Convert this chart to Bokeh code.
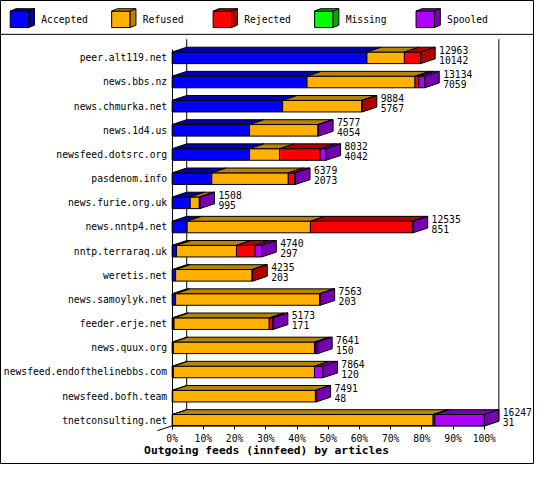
from bokeh.plotting import figure
from bokeh.models import Range1d, LinearAxis, FixedTicker, ColumnDataSource, Label, Span
from bokeh.core.properties import value
from bokeh.embed import file_html
from bokeh.resources import INLINE

# ---------------- data ----------------
hosts = [
    "peer.alt119.net", "news.bbs.nz", "news.chmurka.net", "news.1d4.us",
    "newsfeed.dotsrc.org", "pasdenom.info", "news.furie.org.uk", "news.nntp4.net",
    "nntp.terraraq.uk", "weretis.net", "news.samoylyk.net", "feeder.erje.net",
    "news.quux.org", "newsfeed.endofthelinebbs.com", "newsfeed.bofh.team",
    "tnetconsulting.net",
]
accepted_pct = [62.4, 43.2, 35.4, 24.8, 24.8, 12.7, 5.8, 4.8, 1.4, 1.1, 1.1, 0.6, 0.4, 0.4, 0.2, 0.1]
refused_pct  = [12.0, 34.6, 25.3, 21.9, 9.6, 24.5, 2.9, 39.5, 19.2, 24.5, 46.1, 30.5, 45.2, 45.2, 45.7, 83.5]
rejected_pct = [5.2, 1.2, 0.2, 0.0, 13.0, 2.1, 0.0, 32.7, 6.0, 0.2, 0.0, 1.1, 0.5, 0.0, 0.0, 0.5]
missing_pct  = [0.0] * 16
spooled_pct  = [0.0, 1.9, 0.0, 0.2, 1.9, 0.2, 0.2, 0.2, 2.1, 0.0, 0.2, 0.2, 0.5, 2.7, 0.2, 15.9]
offered_count  = [12963, 13134, 9884, 7577, 8032, 6379, 1508, 12535, 4740, 4235, 7563, 5173, 7641, 7864, 7491, 16247]
accepted_count = [10142, 7059, 5767, 4054, 4042, 2073, 995, 851, 297, 203, 203, 171, 150, 120, 48, 31]

series_names = ["Accepted", "Refused", "Rejected", "Missing", "Spooled"]
front_colors = ["#0000ff", "#ffb000", "#ff0000", "#00ff00", "#b000ff"]
top_colors   = ["#0000a8", "#b88400", "#b00000", "#00a800", "#7600b0"]

pct_ticks = [0, 10, 20, 30, 40, 50, 60, 70, 80, 90, 100]
pct_labels = ["0%", "10%", "20%", "30%", "40%", "50%", "60%", "70%", "80%", "90%", "100%"]
x_title = "Outgoing feeds (innfeed) by articles"

# ---------------- layout ----------------
W, H = 534, 464
REF_W, REF_H = 550, 480
X0PX, XU = 176.8, 3.215      # px of 0 %, px per %
ROW0PX, YU = 59.3, 25.0      # px of first row centre, px per row
n = len(hosts)

def px2x(px):
    return (px - X0PX) / XU

def px2y(py):
    return (n - 1) - (py - ROW0PX) / YU

DX, DY = 15.0 / XU, 5.0 / YU
HALF = 6.0 / YU
GAP = 4.0 / XU
FONT = "DejaVu Sans Mono"
FS = "9.7px"

p = figure(width=W, height=H, title=None, output_backend="svg", toolbar_location=None,
           x_range=Range1d(px2x(0), px2x(REF_W)), y_range=Range1d(px2y(REF_H), px2y(0)),
           x_axis_type=None, y_axis_type=None, min_border=0)
p.outline_line_color = "black"
p.outline_line_width = 1
p.background_fill_color = "white"
p.border_fill_color = "white"

y_floor = px2y(440)

# back wall lines
p.segment(x0=[pct_ticks[0] + DX, pct_ticks[-1] + DX], y0=[y_floor + DY] * 2,
          x1=[pct_ticks[0] + DX, pct_ticks[-1] + DX], y1=[px2y(40)] * 2,
          line_color="black", line_width=1)
# floor corner
p.segment(x0=[pct_ticks[0]], y0=[y_floor], x1=[pct_ticks[0] - DX], y1=[y_floor - DY],
          line_color="black", line_width=1)

front = dict(left=[], right=[], top=[], bottom=[], color=[])
tops = dict(xs=[], ys=[], color=[])
sides = dict(xs=[], ys=[], color=[])
lab = dict(x=[], y=[], text=[])

for i in range(n):
    yc = n - 1 - i
    vals = [accepted_pct[i], refused_pct[i], rejected_pct[i], missing_pct[i], spooled_pct[i]]
    start, last = 0.0, 0
    for k, v in enumerate(vals):
        if v <= 0:
            continue
        l, r = start, start + v
        front["left"].append(l); front["right"].append(r)
        front["top"].append(yc + HALF); front["bottom"].append(yc - HALF)
        front["color"].append(front_colors[k])
        tops["xs"].append([l, r, r + DX, l + DX])
        tops["ys"].append([yc + HALF, yc + HALF, yc + HALF + DY, yc + HALF + DY])
        tops["color"].append(top_colors[k])
        start, last = r, k
    sides["xs"].append([start, start + DX, start + DX, start])
    sides["ys"].append([yc + HALF, yc + HALF + DY, yc - HALF + DY, yc - HALF])
    sides["color"].append(top_colors[last])
    lx = start + DX + GAP
    lab["x"] += [lx, lx]
    lab["y"] += [yc + 8.5 / YU, yc - 1.8 / YU]
    lab["text"] += [str(offered_count[i]), str(accepted_count[i])]

p.quad(left="left", right="right", top="top", bottom="bottom", fill_color="color",
       line_color="black", line_width=1, source=ColumnDataSource(front))
p.patches(xs="xs", ys="ys", fill_color="color", line_color="black", line_width=1,
          source=ColumnDataSource(tops))
p.patches(xs="xs", ys="ys", fill_color="color", line_color="black", line_width=1,
          source=ColumnDataSource(sides))
p.text(x="x", y="y", text="text", source=ColumnDataSource(lab), text_font=value(FONT),
       text_font_size=value(FS), text_baseline="middle", text_align="left", text_color="black")

# legend (3D cubes)
lf = dict(left=[], right=[], top=[], bottom=[], color=[])
lt = dict(xs=[], ys=[], color=[])
ls = dict(xs=[], ys=[], color=[])
ltx = dict(x=[], y=[], text=[])
for k, name in enumerate(series_names):
    x0 = 10 + 104.5 * k
    lf["left"].append(px2x(x0)); lf["right"].append(px2x(x0 + 19))
    lf["top"].append(px2y(11)); lf["bottom"].append(px2y(28)); lf["color"].append(front_colors[k])
    lt["xs"].append([px2x(x0), px2x(x0 + 19), px2x(x0 + 25), px2x(x0 + 6)])
    lt["ys"].append([px2y(11), px2y(11), px2y(8.5), px2y(8.5)])
    lt["color"].append(top_colors[k])
    ls["xs"].append([px2x(x0 + 19), px2x(x0 + 25), px2x(x0 + 25), px2x(x0 + 19)])
    ls["ys"].append([px2y(11), px2y(8.5), px2y(25.5), px2y(28)])
    ls["color"].append(top_colors[k])
    ltx["x"].append(px2x(x0 + 32)); ltx["y"].append(px2y(20)); ltx["text"].append(name)

p.quad(left="left", right="right", top="top", bottom="bottom", fill_color="color",
       line_color="black", line_width=1, source=ColumnDataSource(lf))
p.patches(xs="xs", ys="ys", fill_color="color", line_color="black", line_width=1,
          source=ColumnDataSource(lt))
p.patches(xs="xs", ys="ys", fill_color="color", line_color="black", line_width=1,
          source=ColumnDataSource(ls))
p.text(x="x", y="y", text="text", source=ColumnDataSource(ltx), text_font=value(FONT),
       text_font_size=value(FS), text_baseline="middle", text_align="left", text_color="black")

p.add_layout(Span(location=px2y(35), dimension="width", line_color="black", line_width=1))

# axes
xaxis = LinearAxis(fixed_location=y_floor, bounds=(pct_ticks[0], pct_ticks[-1]),
                   ticker=FixedTicker(ticks=pct_ticks),
                   major_label_overrides={t: s for t, s in zip(pct_ticks, pct_labels)},
                   major_tick_in=0, major_tick_out=4, minor_tick_in=0, minor_tick_out=0,
                   major_label_standoff=3, major_label_text_font=FONT,
                   major_label_text_font_size=FS, major_label_text_color="black",
                   axis_line_color="black", major_tick_line_color="black")
p.add_layout(xaxis, "below")

row_ys = [n - 1 - i for i in range(n)]
yaxis = LinearAxis(fixed_location=0, bounds=(y_floor, px2y(51)),
                   ticker=FixedTicker(ticks=row_ys),
                   major_label_overrides={y: h for y, h in zip(row_ys, hosts)},
                   major_tick_in=0, major_tick_out=0, minor_tick_in=0, minor_tick_out=0,
                   major_label_standoff=5, major_label_text_font=FONT,
                   major_label_text_font_size=FS, major_label_text_color="black",
                   axis_line_color="black")
p.add_layout(yaxis, "left")

p.add_layout(Label(x=px2x(274), y=px2y(466), text=x_title, text_align="center",
                   text_baseline="middle", text_font=FONT, text_font_style="bold",
                   text_font_size="11.3px", text_color="black"))

open("out.html", "w").write(file_html(p, INLINE))
